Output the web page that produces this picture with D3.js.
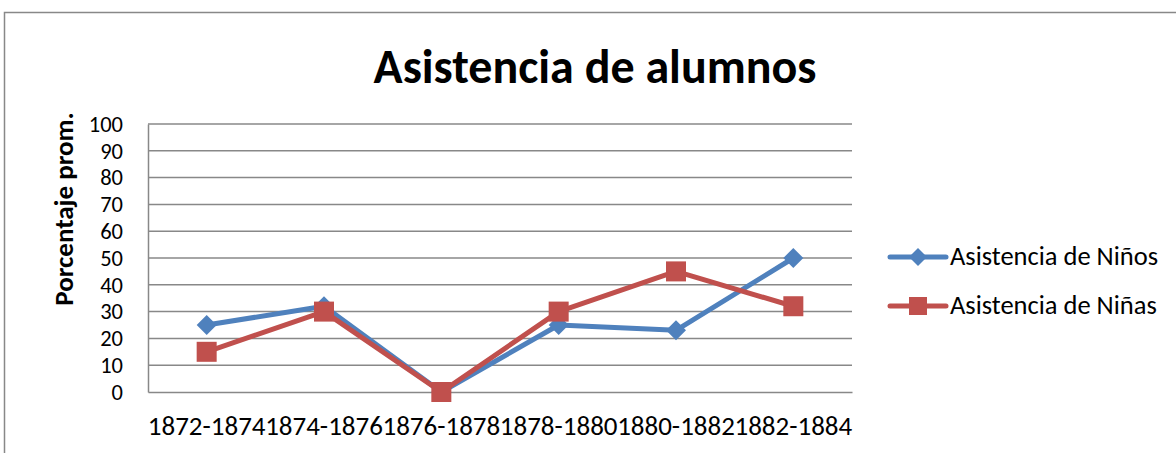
<!DOCTYPE html>
<html><head><meta charset="utf-8">
<script src="https://cdn.jsdelivr.net/npm/d3@7"></script>
<style>
html,body{margin:0;padding:0;background:#fff;}
svg{display:block;}
text{font-family:Carlito,Lato,"Liberation Sans",sans-serif;fill:#000;}
</style></head>
<body>
<svg id="chart" width="1176" height="453"></svg>
<script>
const categories = ["1872-1874","1874-1876","1876-1878","1878-1880","1880-1882","1882-1884"];
const ninos = [25, 32, 0, 25, 23, 50];
const ninas = [15, 30, 0, 30, 45, 32];
const yTicks = [0,10,20,30,40,50,60,70,80,90,100];
const seriesNames = ["Asistencia de Niños","Asistencia de Niñas"];
const colors = ["#4F81BD","#C0504D"];

const svg = d3.select("#chart");
// outer chart frame
svg.append("rect").attr("x",4.5).attr("y",12.5).attr("width",1200).attr("height",500)
  .attr("fill","#fff").attr("stroke","#888").attr("stroke-width",1.5);

const pLeft=148, pRight=852, pTop=124, pBottom=392;
const x = d3.scaleBand().domain(categories).range([pLeft,pRight]);
const y = d3.scaleLinear().domain([0,100]).range([pBottom,pTop]);

// gridlines
svg.append("g").selectAll("line").data(yTicks.filter(d=>d>0)).join("line")
  .attr("x1",pLeft).attr("x2",pRight).attr("y1",d=>y(d)).attr("y2",d=>y(d))
  .attr("stroke","#888").attr("stroke-width",1.5);

// y axis
const ya = svg.append("g").attr("transform",`translate(${pLeft},0)`)
  .call(d3.axisLeft(y).tickValues(yTicks).tickSize(0).tickPadding(25));
ya.select(".domain").attr("stroke","#888").attr("stroke-width",1.5);
ya.selectAll("text").attr("font-size",22.5).attr("fill","#000").attr("dy","0.32em")
  .attr("font-family","Carlito,Lato,sans-serif");

// x axis
const xa = svg.append("g").attr("transform",`translate(0,${pBottom})`)
  .call(d3.axisBottom(x).tickSize(0));
xa.select(".domain").attr("stroke","#888").attr("stroke-width",1.5);
xa.selectAll("text").attr("font-size",27).attr("fill","#000").attr("y",43).attr("dy","0")
  .attr("font-family","Carlito,Lato,sans-serif");

// title
svg.append("text").attr("x",595).attr("y",83).attr("text-anchor","middle")
  .attr("font-size",48).attr("font-weight","bold").text("Asistencia de alumnos");

// y title
svg.append("text").attr("transform","translate(73,209) rotate(-90)")
  .attr("text-anchor","middle").attr("font-size",27).attr("font-weight","bold")
  .text("Porcentaje prom.");

const line = d3.line().x((d,i)=>x(categories[i])+x.bandwidth()/2).y(d=>y(d));
const data = [ninos, ninas];
data.forEach((vals,si)=>{
  svg.append("path").datum(vals).attr("d",line).attr("fill","none")
    .attr("stroke",colors[si]).attr("stroke-width",5).attr("stroke-linejoin","round");
});
// markers
const diamond = s => `M0,${-s}L${s},0L0,${s}L${-s},0Z`;
svg.append("g").selectAll("path").data(ninos).join("path")
  .attr("transform",(d,i)=>`translate(${x(categories[i])+x.bandwidth()/2},${y(d)})`)
  .attr("d",diamond(10)).attr("fill",colors[0]);
svg.append("g").selectAll("rect").data(ninas).join("rect")
  .attr("x",(d,i)=>x(categories[i])+x.bandwidth()/2-10).attr("y",d=>y(d)-10)
  .attr("width",20).attr("height",20).attr("fill",colors[1]);

// legend
const lg = svg.append("g");
seriesNames.forEach((n,i)=>{
  const ly = 257 + i*49;
  lg.append("line").attr("x1",890).attr("x2",946).attr("y1",ly).attr("y2",ly)
    .attr("stroke",colors[i]).attr("stroke-width",5).attr("stroke-linecap","round");
  if(i===0) lg.append("path").attr("transform",`translate(918,${ly})`).attr("d",diamond(9)).attr("fill",colors[0]);
  else lg.append("rect").attr("x",909).attr("y",ly-9).attr("width",18).attr("height",18).attr("fill",colors[1]);
  lg.append("text").attr("x",950).attr("y",ly).attr("dy","0.32em").attr("font-size",26.5).text(n);
});
</script>
</body></html>
